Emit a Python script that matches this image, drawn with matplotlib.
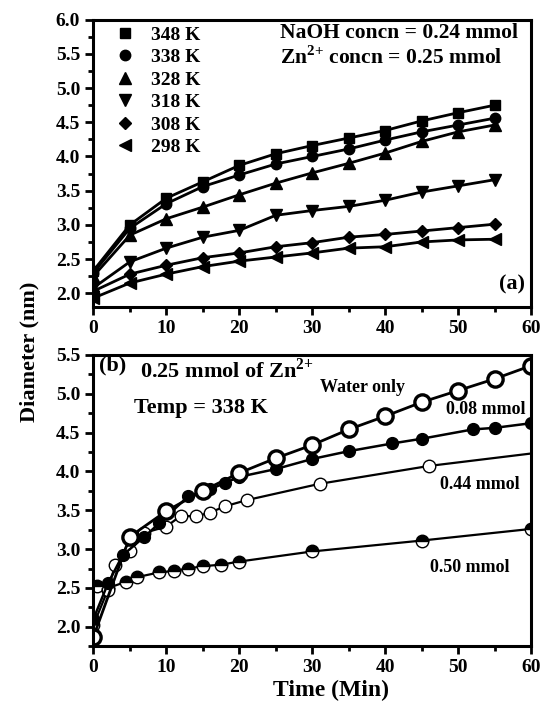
import numpy as np
import matplotlib
matplotlib.use("Agg")
import matplotlib.pyplot as plt
from matplotlib.lines import Line2D
from matplotlib.ticker import MultipleLocator

plt.rcParams['font.family'] = ['Liberation Serif', 'DejaVu Serif']
plt.rcParams['font.weight'] = 'bold'
plt.rcParams['axes.labelweight'] = 'bold'
plt.rcParams['mathtext.fontset'] = 'custom'
plt.rcParams['mathtext.rm'] = 'Liberation Serif:bold'
plt.rcParams['mathtext.bf'] = 'Liberation Serif:bold'

# ---- panel (a): diameter vs time at different temperatures ----
t_a = [0, 5, 10, 15, 20, 25, 30, 35, 40, 45, 50, 55]
temps = ['348 K', '338 K', '328 K', '318 K', '308 K', '298 K']
d_348 = [2.33, 3.00, 3.39, 3.63, 3.87, 4.04, 4.16, 4.27, 4.38, 4.52, 4.64, 4.75]
d_338 = [2.30, 2.95, 3.31, 3.56, 3.73, 3.89, 4.00, 4.11, 4.24, 4.36, 4.46, 4.56]
d_328 = [2.25, 2.85, 3.09, 3.26, 3.44, 3.61, 3.76, 3.90, 4.05, 4.22, 4.36, 4.46]
d_318 = [2.08, 2.46, 2.66, 2.82, 2.92, 3.14, 3.21, 3.27, 3.36, 3.48, 3.57, 3.66]
d_308 = [2.03, 2.28, 2.41, 2.52, 2.59, 2.68, 2.74, 2.82, 2.86, 2.91, 2.96, 3.01]
d_298 = [1.93, 2.15, 2.28, 2.39, 2.47, 2.53, 2.59, 2.66, 2.68, 2.75, 2.78, 2.79]
series_a = [d_348, d_338, d_328, d_318, d_308, d_298]
markers_a = ['s', 'o', '^', 'v', 'D', '<']
msize_a = [7, 7.5, 8, 8, 6.5, 8]

# ---- panel (b): diameter vs time for different NaOH amounts ----
t_water = [0, 5, 10, 15, 20, 25, 30, 35, 40, 45, 50, 55, 60]
d_water = [1.87, 3.16, 3.49, 3.75, 3.98, 4.17, 4.34, 4.54, 4.71, 4.89, 5.04, 5.19, 5.36]
t_008 = [0, 2, 4, 7, 9, 13, 16, 18, 20, 25, 30, 35, 41, 45, 52, 55, 60]
d_008 = [2.10, 2.56, 2.92, 3.16, 3.33, 3.68, 3.77, 3.85, 3.93, 4.03, 4.16, 4.26, 4.36,
         4.42, 4.54, 4.56, 4.62]
t_044 = [0, 2, 3, 5, 7, 10, 12, 14, 16, 18, 21, 31, 46, 60]
d_044 = [2.02, 2.48, 2.80, 2.97, 3.21, 3.29, 3.43, 3.42, 3.47, 3.55, 3.63, 3.84, 4.07, 4.23]
t_050 = [0.5, 2, 4.5, 6, 9, 11, 13, 15, 17.5, 20, 30, 45, 60]
d_050 = [2.52, 2.50, 2.58, 2.64, 2.70, 2.72, 2.75, 2.78, 2.80, 2.84, 2.97, 3.11, 3.26]

fig = plt.figure(figsize=(5.43, 7.04), dpi=100)
ax1 = fig.add_axes([0.172, 0.564, 0.806, 0.408])
ax2 = fig.add_axes([0.172, 0.082, 0.806, 0.414])

lw = 2.0
for d, m, ms in zip(series_a, markers_a, msize_a):
    ax1.plot(t_a, d, color='black', lw=lw, marker=m, ms=ms, mfc='black', mec='black')

handles = [Line2D([], [], ls='none', marker=m, ms=ms, color='black')
           for m, ms in zip(markers_a, msize_a)]
ax1.legend(handles, temps, loc='upper left', frameon=False, fontsize=14,
           handlelength=1.0, handletextpad=0.8, labelspacing=0.25,
           borderaxespad=0.0, bbox_to_anchor=(0.033, 1.005))

ax1.text(25.6, 5.81, 'NaOH concn = 0.24 mmol', fontsize=15.5, va='center')
ax1.text(25.6, 5.45, r'Zn$^{2{+}}$ concn = 0.25 mmol', fontsize=15.5, va='center')
ax1.text(59.2, 2.13, '(a)', fontsize=16, ha='right', va='center')
ax1.set_xlim(0, 60)
ax1.set_ylim(1.8, 6.0)
ax1.yaxis.set_major_locator(MultipleLocator(0.5))

# panel (b)
ax2.plot(t_050, d_050, color='black', lw=1.6, marker='o', ms=9, fillstyle='top',
         mfc='black', mfcalt='white', mec='black', mew=1.0)
ax2.plot(t_044, d_044, color='black', lw=1.6, marker='o', ms=9, mfc='white',
         mec='black', mew=1.0, markevery=list(range(len(t_044) - 1)))
ax2.plot(t_008, d_008, color='black', lw=1.8, marker='o', ms=8.5, mfc='black', mec='black')
ax2.plot(t_water, d_water, color='black', lw=2.0, marker='o', ms=11, mfc='white',
         mec='black', mew=2.4)

ax2.text(0.7, 5.36, '(b)', fontsize=16, va='center')
ax2.text(6.4, 5.30, r'0.25 mmol of Zn$^{2{+}}$', fontsize=16, va='center')
ax2.text(5.5, 4.82, 'Temp = 338 K', fontsize=16, va='center')
ax2.text(31.1, 5.08, 'Water only', fontsize=13, va='center')
ax2.text(48.4, 4.79, '0.08 mmol', fontsize=13, va='center')
ax2.text(47.5, 3.83, '0.44 mmol', fontsize=13, va='center')
ax2.text(46.2, 2.76, '0.50 mmol', fontsize=13, va='center')
ax2.set_xlim(0, 60)
ax2.set_ylim(1.75, 5.5)
ax2.yaxis.set_major_locator(MultipleLocator(0.5))
ax2.set_xlabel('Time (Min)', fontsize=17, fontweight='bold', va='center')
ax2.xaxis.set_label_coords(0.543, -0.152)

for ax in (ax1, ax2):
    ax.xaxis.set_major_locator(MultipleLocator(10))
    ax.xaxis.set_minor_locator(MultipleLocator(5))
    ax.yaxis.set_minor_locator(MultipleLocator(0.25))
    ax.tick_params(which='major', direction='out', length=6, width=2.0, labelsize=14,
                   top=False, right=False)
    ax.tick_params(which='minor', direction='out', length=3.5, width=2.0,
                   top=False, right=False)
    ax.set_yticklabels([f'{v:.1f}' for v in ax.get_yticks()])
    for lab in ax.get_xticklabels() + ax.get_yticklabels():
        lab.set_fontweight('bold')
    for sp in ax.spines.values():
        sp.set_linewidth(2.2)

fig.text(0.055, 0.5, 'Diameter (nm)', rotation=90, fontsize=16, fontweight='bold',
         va='center', ha='center')

fig.savefig('out.png', dpi=100)
